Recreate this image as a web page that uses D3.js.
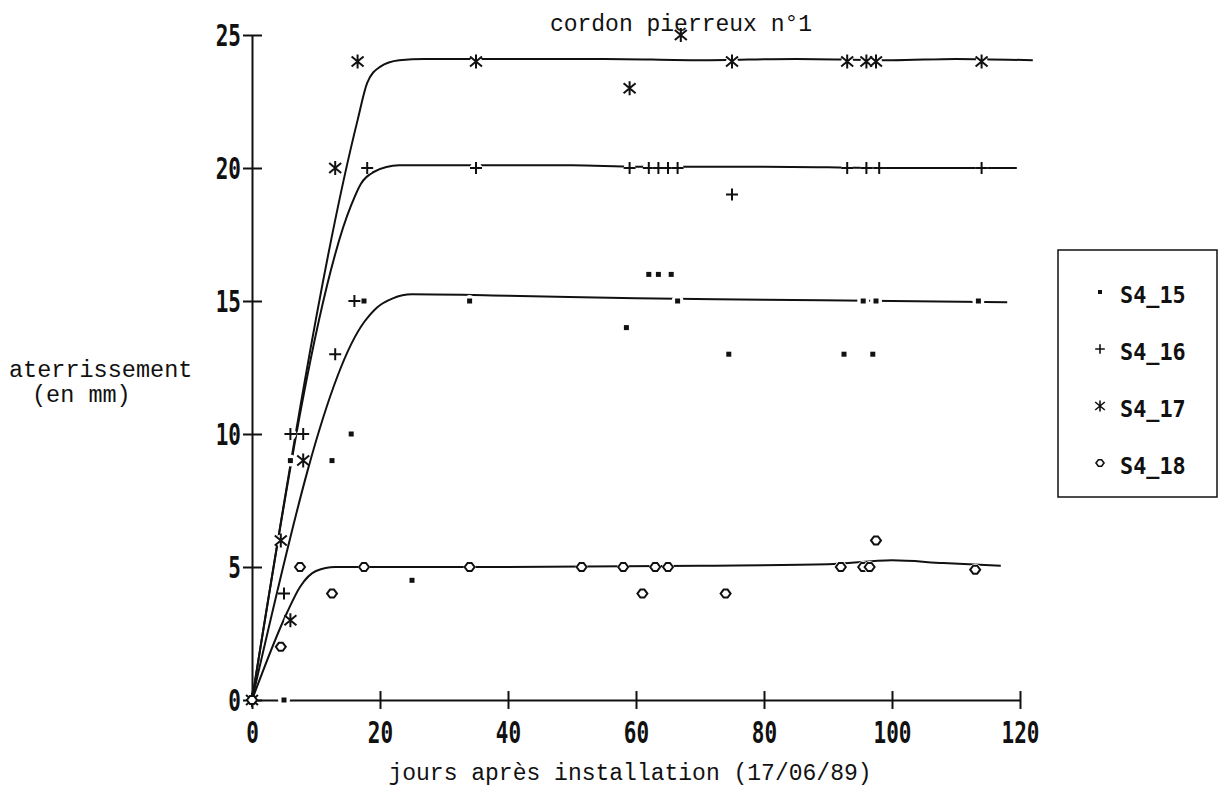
<!DOCTYPE html>
<html>
<head>
<meta charset="utf-8">
<script src="https://cdn.jsdelivr.net/npm/d3@7/dist/d3.min.js"></script>
<style>
  body { margin: 0; background: #fff; }
  svg { display: block; }
</style>
</head>
<body>
<script>
// measured points, days after installation vs. sediment depth (mm)
const seriesNames = ['S4_15', 'S4_16', 'S4_17', 'S4_18']

const s15Days = [0, 5, 6, 12.5, 15.5, 17.5, 25, 34, 58.5, 62, 63.5, 65.5, 66.5, 74.5, 92.5, 95.5, 97, 97.5, 113.5]
const s15Vals = [0, 0, 9, 9, 10, 15, 4.5, 15, 14, 16, 16, 16, 15, 13, 13, 15, 13, 15, 15]

const s16Days = [0, 5, 6, 8, 13, 16, 18, 35, 59, 62, 63.5, 65, 66.5, 75, 93, 96, 98, 114]
const s16Vals = [0, 4, 10, 10, 13, 15, 20, 20, 20, 20, 20, 20, 20, 19, 20, 20, 20, 20]

const s17Days = [0, 4.5, 6, 8, 13, 16.5, 35, 59, 67, 75, 93, 96, 97.5, 114]
const s17Vals = [0, 6, 3, 9, 20, 24, 24, 23, 25, 24, 24, 24, 24, 24]

const s18Days = [0, 4.5, 7.5, 12.5, 17.5, 34, 51.5, 58, 61, 63, 65, 74, 92, 95.5, 96.5, 97.5, 113]
const s18Vals = [0, 2, 5, 4, 5, 5, 5, 5, 4, 5, 5, 4, 5, 5, 5, 6, 4.9]

// fitted curves
const fit15Days = [0, 17.5, 19.5, 22, 25, 40, 60, 80, 100, 118]
const fit15Vals = [0, 14.2, 14.75, 15.1, 15.25, 15.2, 15.1, 15.05, 15.0, 14.95]

const fit16Days = [0, 15.5, 17, 19, 23, 30, 50, 60, 80, 100, 119.5]
const fit16Vals = [0, 18.6, 19.4, 19.85, 20.1, 20.1, 20.1, 20.05, 20.05, 20.0, 20.0]

const fit17Days = [0, 16.5, 18, 20, 23, 27, 40, 55, 70, 85, 100, 110, 122]
const fit17Vals = [0, 21.8, 23.2, 23.8, 24.05, 24.1, 24.1, 24.1, 24.05, 24.1, 24.05, 24.1, 24.05]

const fit18Days = [0, 5.5, 7.5, 10, 13, 40, 70, 90, 100, 108, 117]
const fit18Vals = [0, 3.3, 4.25, 4.85, 5.0, 5.0, 5.05, 5.1, 5.25, 5.15, 5.05]

const xTicks = [0, 20, 40, 60, 80, 100, 120]
const yTicks = [0, 5, 10, 15, 20, 25]

const zip = (xs, ys) => xs.map((d, i) => [d, ys[i]])

const points = [zip(s15Days, s15Vals), zip(s16Days, s16Vals), zip(s17Days, s17Vals), zip(s18Days, s18Vals)]
const fits = [zip(fit15Days, fit15Vals), zip(fit16Days, fit16Vals), zip(fit17Days, fit17Vals), zip(fit18Days, fit18Vals)]

// marker drawers, one per series (dot, plus, asterisk, open diamond)
const markers = [
  g => g.append('rect').attr('x', -2.5).attr('y', -2.5).attr('width', 5).attr('height', 5).attr('fill', '#111'),
  g => g.append('path').attr('d', 'M-6,0H6M0,-6V6').attr('stroke', '#111').attr('stroke-width', 2),
  g => g.append('path').attr('d', 'M-6,-5L6,5M-6,5L6,-5M0,-7V7').attr('stroke', '#111').attr('stroke-width', 2),
  g => g.append('path').attr('d', 'M-5,0L-2,-4H2L5,0L2,4H-2Z').attr('fill', '#fff').attr('stroke', '#111').attr('stroke-width', 2),
]

const mono = 'Liberation Mono, DejaVu Sans Mono, monospace'
const tickFont = 'DejaVu Sans Mono, monospace'

const render = () => {
  const width = 1223
  const height = 796

  const x = d3.scaleLinear().domain([0, 120]).range([252, 1020])
  const y = d3.scaleLinear().domain([0, 25]).range([700, 35])

  const svg = d3.select('body').append('svg').attr('width', width).attr('height', height)

  // fitted curves
  const line = d3.line().x(d => x(d[0])).y(d => y(d[1])).curve(d3.curveMonotoneX)
  svg.selectAll('.fit')
     .data(fits)
     .enter()
     .append('path')
     .attr('class', 'fit')
     .attr('fill', 'none')
     .attr('stroke', '#111')
     .attr('stroke-width', 2)
     .attr('d', line)

  // axes, ticks crossing the axis line
  const xAxis = d3.axisBottom(x).tickValues(xTicks).tickSizeInner(9).tickSizeOuter(0).tickFormat(d3.format('d'))
  const gx = svg.append('g').attr('transform', 'translate(0,' + y(0) + ')').call(xAxis)
  gx.select('.domain').attr('stroke', '#111').attr('stroke-width', 2)
  gx.selectAll('.tick line').attr('y1', -9).attr('stroke', '#111').attr('stroke-width', 2)
  gx.selectAll('.tick text')
    .attr('font-family', tickFont).attr('font-weight', 'bold').attr('font-size', 30)
    .attr('fill', '#111').attr('transform', 'scale(0.7,1)').attr('y', 43).attr('dy', 0)

  const yAxis = d3.axisLeft(y).tickValues(yTicks).tickSizeInner(9).tickSizeOuter(0).tickFormat(d3.format('d'))
  const gy = svg.append('g').attr('transform', 'translate(' + x(0) + ',0)').call(yAxis)
  gy.select('.domain').attr('stroke', '#111').attr('stroke-width', 2)
  gy.selectAll('.tick line').attr('x1', 10).attr('stroke', '#111').attr('stroke-width', 2)
  gy.selectAll('.tick text')
    .attr('font-family', tickFont).attr('font-weight', 'bold').attr('font-size', 30)
    .attr('fill', '#111').attr('transform', 'scale(0.7,1)').attr('x', -11 / 0.7).attr('dy', '0.36em')

  // markers with a white halo that cuts the curves
  points.forEach((pts, i) => {
    const g = svg.append('g')
    const m = g.selectAll('g')
               .data(pts)
               .enter()
               .append('g')
               .attr('transform', d => 'translate(' + x(d[0]) + ',' + y(d[1]) + ')')
    m.filter(d => d[0] > 0).append('circle').attr('r', 6).attr('fill', '#fff')
    markers[i](m)
  })

  // titles
  svg.append('text')
     .attr('x', 681).attr('y', 31)
     .attr('text-anchor', 'middle')
     .attr('font-family', mono).attr('font-size', 23).attr('fill', '#111')
     .text('cordon pierreux n°1')

  svg.append('text')
     .attr('x', 630).attr('y', 780)
     .attr('text-anchor', 'middle')
     .attr('font-family', mono).attr('font-size', 23).attr('fill', '#111')
     .text('jours après installation (17/06/89)')

  svg.append('text')
     .attr('x', 9).attr('y', 377)
     .attr('font-family', mono).attr('font-size', 23.5).attr('fill', '#111')
     .text('aterrissement')
  svg.append('text')
     .attr('x', 32).attr('y', 402)
     .attr('font-family', mono).attr('font-size', 23.5).attr('fill', '#111')
     .text('(en mm)')

  // legend
  const legend = svg.append('g')
  legend.append('rect')
        .attr('x', 1058).attr('y', 250).attr('width', 159).attr('height', 247)
        .attr('fill', 'none').attr('stroke', '#111').attr('stroke-width', 1.5)

  const item = legend.selectAll('.item')
                     .data(seriesNames)
                     .enter()
                     .append('g')
                     .attr('class', 'item')
                     .attr('transform', (d, i) => 'translate(1100,' + (303 + i * 57) + ')')

  item.each(function (d, i) {
    const mg = d3.select(this).append('g').attr('transform', 'translate(0,-11) scale(0.8)')
    markers[i](mg)
  })

  item.append('text')
      .attr('x', 20 / 0.95).attr('y', 0)
      .attr('transform', 'scale(0.95,1)')
      .attr('font-family', tickFont).attr('font-weight', 'bold').attr('font-size', 23)
      .attr('fill', '#111')
      .text(d => d)
}

render()
</script>
</body>
</html>
